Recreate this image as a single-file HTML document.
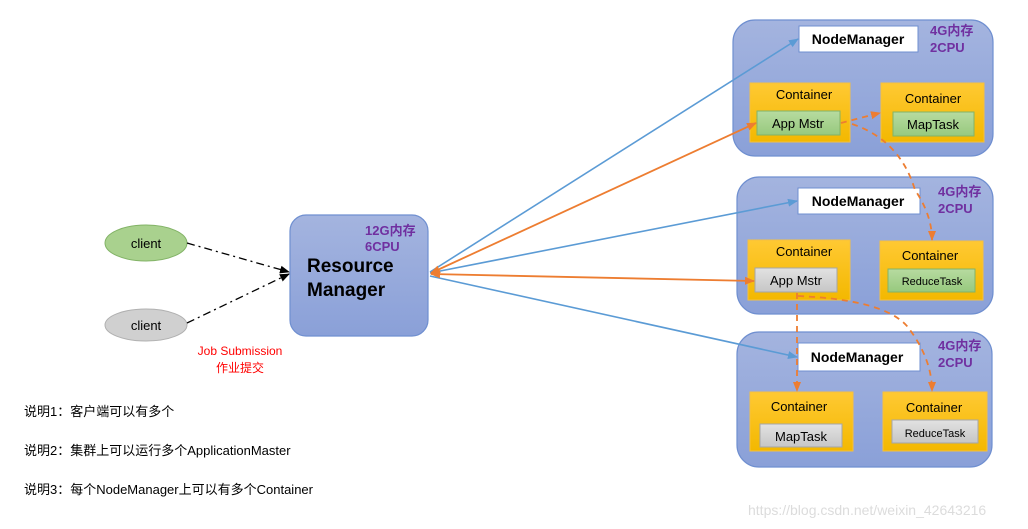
<!DOCTYPE html>
<html><head><meta charset="utf-8"><style>
html,body{margin:0;padding:0;background:#fff;}
svg{display:block;font-family:"Liberation Sans","Noto Sans CJK SC",sans-serif;}
</style></head><body>
<svg width="1028" height="529" viewBox="0 0 1028 529" xmlns="http://www.w3.org/2000/svg">
<defs>
<linearGradient id="bg" x1="0" y1="0" x2="0" y2="1"><stop offset="0" stop-color="#a4b4df"/><stop offset="1" stop-color="#8aa0d8"/></linearGradient>
<linearGradient id="yg" x1="0" y1="0" x2="0" y2="1"><stop offset="0" stop-color="#ffc933"/><stop offset="1" stop-color="#f3b800"/></linearGradient>
<linearGradient id="gg" x1="0" y1="0" x2="0" y2="1"><stop offset="0" stop-color="#b7dba0"/><stop offset="1" stop-color="#97c97e"/></linearGradient>
<linearGradient id="gr" x1="0" y1="0" x2="0" y2="1"><stop offset="0" stop-color="#e2e2e2"/><stop offset="1" stop-color="#c6c6c6"/></linearGradient>
<marker id="ab" markerWidth="10" markerHeight="10" refX="9" refY="5" orient="auto" markerUnits="userSpaceOnUse"><path d="M0,1 L10,5 L0,9 z" fill="#5b9bd5"/></marker>
<marker id="ao" markerWidth="10" markerHeight="10" refX="9" refY="5" orient="auto" markerUnits="userSpaceOnUse"><path d="M0,1 L10,5 L0,9 z" fill="#ed7d31"/></marker>
<marker id="ao2" markerWidth="10" markerHeight="10" refX="1" refY="5" orient="auto" markerUnits="userSpaceOnUse"><path d="M10,1 L0,5 L10,9 z" fill="#ed7d31"/></marker>
<marker id="ak" markerWidth="10" markerHeight="10" refX="9" refY="5" orient="auto" markerUnits="userSpaceOnUse"><path d="M0,1 L10,5 L0,9 z" fill="#000"/></marker>
</defs>

<!-- Node 1 -->
<rect x="733" y="20" width="260" height="136" rx="22" fill="url(#bg)" stroke="#6f8fd0" stroke-width="1.2"/>
<rect x="799" y="26" width="119" height="26" fill="#fff" stroke="#6f8fd0"/>
<text x="858" y="44" font-size="14" font-weight="bold" text-anchor="middle">NodeManager</text>
<text x="930" y="35" font-size="13" font-weight="bold" fill="#7030a0">4G内存</text>
<text x="930" y="52" font-size="13" font-weight="bold" fill="#7030a0">2CPU</text>
<rect x="750" y="83" width="100" height="59" fill="url(#yg)" stroke="#f5c040"/>
<text x="804" y="99" font-size="13" text-anchor="middle">Container</text>
<rect x="757" y="111" width="83" height="24" fill="url(#gg)" stroke="#82b366"/>
<text x="798" y="128" font-size="13" text-anchor="middle">App Mstr</text>
<rect x="881" y="83" width="103" height="59" fill="url(#yg)" stroke="#f5c040"/>
<text x="933" y="103" font-size="13" text-anchor="middle">Container</text>
<rect x="893" y="112" width="81" height="24" fill="url(#gg)" stroke="#82b366"/>
<text x="933" y="129" font-size="13" text-anchor="middle">MapTask</text>

<!-- Node 2 -->
<rect x="737" y="177" width="256" height="137" rx="22" fill="url(#bg)" stroke="#6f8fd0" stroke-width="1.2"/>
<rect x="798" y="188" width="122" height="26" fill="#fff" stroke="#6f8fd0"/>
<text x="858" y="206" font-size="14" font-weight="bold" text-anchor="middle">NodeManager</text>
<text x="938" y="196" font-size="13" font-weight="bold" fill="#7030a0">4G内存</text>
<text x="938" y="213" font-size="13" font-weight="bold" fill="#7030a0">2CPU</text>
<rect x="748" y="240" width="102" height="60" fill="url(#yg)" stroke="#f5c040"/>
<text x="804" y="256" font-size="13" text-anchor="middle">Container</text>
<rect x="755" y="268" width="82" height="24" fill="url(#gr)" stroke="#a6a6a6"/>
<text x="796" y="285" font-size="13" text-anchor="middle">App Mstr</text>
<rect x="880" y="241" width="103" height="59" fill="url(#yg)" stroke="#f5c040"/>
<text x="930" y="260" font-size="13" text-anchor="middle">Container</text>
<rect x="888" y="269" width="87" height="23" fill="url(#gg)" stroke="#82b366"/>
<text x="932" y="285" font-size="11" text-anchor="middle">ReduceTask</text>

<!-- Node 3 -->
<rect x="737" y="332" width="255" height="135" rx="22" fill="url(#bg)" stroke="#6f8fd0" stroke-width="1.2"/>
<rect x="798" y="343" width="122" height="28" fill="#fff" stroke="#6f8fd0"/>
<text x="857" y="362" font-size="14" font-weight="bold" text-anchor="middle">NodeManager</text>
<text x="938" y="350" font-size="13" font-weight="bold" fill="#7030a0">4G内存</text>
<text x="938" y="367" font-size="13" font-weight="bold" fill="#7030a0">2CPU</text>
<rect x="750" y="392" width="103" height="59" fill="url(#yg)" stroke="#f5c040"/>
<text x="799" y="411" font-size="13" text-anchor="middle">Container</text>
<rect x="760" y="424" width="82" height="23" fill="url(#gr)" stroke="#a6a6a6"/>
<text x="801" y="441" font-size="13" text-anchor="middle">MapTask</text>
<rect x="883" y="392" width="104" height="59" fill="url(#yg)" stroke="#f5c040"/>
<text x="934" y="412" font-size="13" text-anchor="middle">Container</text>
<rect x="892" y="420" width="86" height="23" fill="url(#gr)" stroke="#a6a6a6"/>
<text x="935" y="437" font-size="11" text-anchor="middle">ReduceTask</text>

<!-- Resource Manager -->
<rect x="290" y="215" width="138" height="121" rx="16" fill="url(#bg)" stroke="#6f8fd0" stroke-width="1.2"/>
<text x="365" y="235" font-size="13" font-weight="bold" fill="#7030a0">12G内存</text>
<text x="365" y="251" font-size="13" font-weight="bold" fill="#7030a0">6CPU</text>
<text x="307" y="272" font-size="19" font-weight="bold">Resource</text>
<text x="307" y="296" font-size="19" font-weight="bold">Manager</text>

<!-- clients -->
<ellipse cx="146" cy="243" rx="41" ry="18" fill="#a9d18e" stroke="#82b366"/>
<text x="146" y="248" font-size="13" text-anchor="middle">client</text>
<ellipse cx="146" cy="325" rx="41" ry="16" fill="#d0d0d0" stroke="#b0b0b0"/>
<text x="146" y="330" font-size="13" text-anchor="middle">client</text>
<line x1="187" y1="243" x2="289" y2="272" stroke="#000" stroke-width="1.3" stroke-dasharray="8,4,2,4" marker-end="url(#ak)"/>
<line x1="187" y1="323" x2="289" y2="274" stroke="#000" stroke-width="1.3" stroke-dasharray="8,4,2,4" marker-end="url(#ak)"/>
<text x="240" y="355" font-size="12" fill="#ff0000" text-anchor="middle">Job Submission</text>
<text x="240" y="372" font-size="12" fill="#ff0000" text-anchor="middle">作业提交</text>

<!-- blue lines -->
<line x1="430" y1="272" x2="798" y2="39" stroke="#5b9bd5" stroke-width="1.6" marker-end="url(#ab)"/>
<line x1="430" y1="273" x2="797" y2="201" stroke="#5b9bd5" stroke-width="1.6" marker-end="url(#ab)"/>
<line x1="430" y1="276" x2="797" y2="357" stroke="#5b9bd5" stroke-width="1.6" marker-end="url(#ab)"/>
<!-- orange solid -->
<line x1="431" y1="273" x2="756" y2="123" stroke="#ed7d31" stroke-width="1.8" marker-start="url(#ao2)" marker-end="url(#ao)"/>
<line x1="431" y1="274" x2="754" y2="281" stroke="#ed7d31" stroke-width="1.8" marker-start="url(#ao2)" marker-end="url(#ao)"/>
<!-- orange dashed -->
<g fill="none" stroke="#ed7d31" stroke-width="1.8" stroke-dasharray="6,5">
<path d="M841,123 Q860,118 880,113" marker-end="url(#ao)"/>
<path d="M852,124 Q900,140 915,190 Q932,215 932,240" marker-end="url(#ao)"/>
<path d="M797,293 L797,391" marker-end="url(#ao)"/>
<path d="M798,296 Q890,300 910,330 Q932,360 932,391" marker-end="url(#ao)"/>
</g>

<!-- notes -->
<g font-size="13" fill="#000">
<text x="24" y="416">说明1：客户端可以有多个</text>
<text x="24" y="455">说明2：集群上可以运行多个ApplicationMaster</text>
<text x="24" y="494">说明3：每个NodeManager上可以有多个Container</text>
</g>
<text x="748" y="515" font-size="14" fill="#dcdcdc">https://blog.csdn.net/weixin_42643216</text>
</svg>
</body></html>
